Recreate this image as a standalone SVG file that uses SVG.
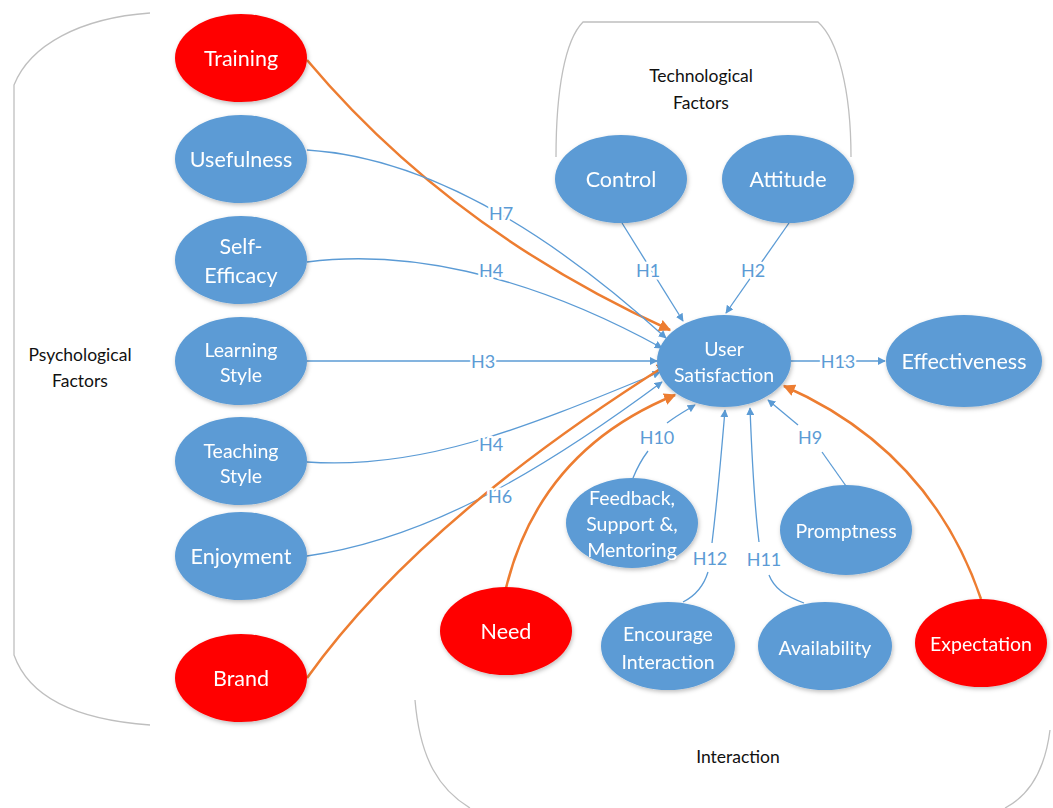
<svg xmlns="http://www.w3.org/2000/svg" width="1053" height="808" viewBox="0 0 1053 808">
<style>
.b{fill:#5B9BD5}
.r{fill:#FF0000}
.nt{font-family:Lato,"Open Sans",sans-serif;font-size:21.5px;fill:#fff;text-anchor:middle;dominant-baseline:central}
.sm{font-size:19.5px}
.gl{font-family:Lato,"Open Sans",sans-serif;font-size:17.5px;fill:#111;text-anchor:middle;dominant-baseline:central}
.hl{font-family:Lato,"Open Sans",sans-serif;font-size:18px;fill:#5B9BD5;text-anchor:middle;dominant-baseline:central;stroke:#fff;stroke-width:5;stroke-linejoin:round;paint-order:stroke}
.cb{fill:none;stroke:#5B9BD5;stroke-width:1.3}
.cba{marker-end:url(#ab)}
.co{fill:none;stroke:#ED7D31;stroke-width:2.5;marker-end:url(#ao)}
.br{fill:none;stroke:#BFBFBF;stroke-width:1.3}
</style>
<defs>
<marker id="ab" viewBox="0 0 10 10" refX="9" refY="5" markerWidth="8" markerHeight="8" markerUnits="userSpaceOnUse" orient="auto"><path d="M0,0 L10,5 L0,10 z" fill="#5B9BD5"/></marker>
<marker id="ao" viewBox="0 0 10 10" refX="9" refY="5" markerWidth="12" markerHeight="12" markerUnits="userSpaceOnUse" orient="auto"><path d="M0,0 L10,5 L0,10 z" fill="#ED7D31"/></marker>
<filter id="sh" x="-20%" y="-20%" width="140%" height="150%"><feDropShadow dx="1" dy="2" stdDeviation="2" flood-color="#000" flood-opacity="0.25"/></filter>
</defs>
<rect width="1053" height="808" fill="#fff"/>
<g id="brackets">
<path class="br" d="M150,13 C80,18 30,45 14,85 L14,655 C30,700 80,720 150,725"/>
<path class="br" d="M556,157 C556,90 565,40 583,22 L818,22 C838,40 851,90 851,157"/>
<path class="br" d="M415,700 C420,760 440,790 470,808"/>
<path class="br" d="M1050,730 C1045,770 1030,795 1005,808"/>
<text class="gl" x="701" y="75">Technological</text>
<text class="gl" x="701" y="102">Factors</text>
<text class="gl" x="80" y="354">Psychological</text>
<text class="gl" x="80" y="380">Factors</text>
<text class="gl" x="738" y="756">Interaction</text>
</g>
<g id="connectors">
<path class="co" d="M307,60 Q450,230 670,330"/>
<path class="cb cba" d="M307,150 Q470,160 666,338"/>
<path class="cb cba" d="M307,262 C400,250 520,270 662,348"/>
<path class="cb cba" d="M307,361 L657,361"/>
<path class="cb cba" d="M307,462 C420,470 520,430 660,372"/>
<path class="cb cba" d="M307,556 C420,540 530,480 662,382"/>
<path class="co" d="M307,678 Q420,520 668,364"/>
<path class="co" d="M506,588 Q540,450 675,395"/>
<path class="co" d="M981,599 Q930,450 784,386"/>
<path class="cb cba" d="M622,223 L683,321"/>
<path class="cb cba" d="M789,223 L726,313"/>
<path class="cb cba" d="M791,361 L885,361"/>
<path class="cb" d="M633,478 C637,468 642,459 648,451"/>
<path class="cb cba" d="M667,423 C676,416 685,411 695,405"/>
<path class="cb" d="M683,602 C697,595 704,585 708,572"/>
<path class="cb cba" d="M712,543 C716,510 720,470 725,410"/>
<path class="cb" d="M804,603 C785,596 774,588 769,575"/>
<path class="cb cba" d="M759,542 C755,510 752,460 750,408"/>
<path class="cb" d="M846,486 L822,452"/>
<path class="cb cba" d="M798,425 L768,400"/>
<text class="hl" x="501" y="213">H7</text>
<text class="hl" x="491" y="270">H4</text>
<text class="hl" x="483" y="361">H3</text>
<text class="hl" x="491" y="444">H4</text>
<text class="hl" x="500" y="496">H6</text>
<text class="hl" x="648" y="270">H1</text>
<text class="hl" x="753" y="270">H2</text>
<text class="hl" x="838" y="361">H13</text>
<text class="hl" x="657" y="437">H10</text>
<text class="hl" x="710" y="558">H12</text>
<text class="hl" x="764" y="559">H11</text>
<text class="hl" x="810" y="437">H9</text>
</g>
<g id="training" filter="url(#sh)"><ellipse class="r" cx="241" cy="58" rx="66" ry="44"/><text class="nt" x="241" y="58">Training</text></g>
<g id="usefulness" filter="url(#sh)"><ellipse class="b" cx="241" cy="159" rx="66" ry="44"/><text class="nt" x="241" y="159">Usefulness</text></g>
<g id="self-efficacy" filter="url(#sh)"><ellipse class="b" cx="241" cy="260" rx="66" ry="44"/><text class="nt" x="241" y="246">Self-</text><text class="nt" x="241" y="275">Efficacy</text></g>
<g id="learning-style" filter="url(#sh)"><ellipse class="b" cx="241" cy="361" rx="66" ry="44"/><text class="nt sm" x="241" y="349">Learning</text><text class="nt sm" x="241" y="374">Style</text></g>
<g id="teaching-style" filter="url(#sh)"><ellipse class="b" cx="241" cy="461" rx="66" ry="44"/><text class="nt sm" x="241" y="450">Teaching</text><text class="nt sm" x="241" y="475">Style</text></g>
<g id="enjoyment" filter="url(#sh)"><ellipse class="b" cx="241" cy="556" rx="66" ry="44"/><text class="nt" x="241" y="556">Enjoyment</text></g>
<g id="brand" filter="url(#sh)"><ellipse class="r" cx="241" cy="678" rx="66" ry="44"/><text class="nt" x="241" y="678">Brand</text></g>
<g id="control" filter="url(#sh)"><ellipse class="b" cx="621" cy="179" rx="66" ry="44"/><text class="nt" x="621" y="179">Control</text></g>
<g id="attitude" filter="url(#sh)"><ellipse class="b" cx="788" cy="179" rx="66" ry="44"/><text class="nt" x="788" y="179">Attitude</text></g>
<g id="user-satisfaction" filter="url(#sh)"><ellipse class="b" cx="724" cy="361" rx="67" ry="46"/><text class="nt sm" x="724" y="348">User</text><text class="nt sm" x="724" y="374">Satisfaction</text></g>
<g id="effectiveness" filter="url(#sh)"><ellipse class="b" cx="964" cy="361" rx="78" ry="46"/><text class="nt" x="964" y="361">Effectiveness</text></g>
<g id="feedback" filter="url(#sh)"><ellipse class="b" cx="632" cy="523" rx="66" ry="45"/><text class="nt sm" x="632" y="497">Feedback,</text><text class="nt sm" x="632" y="523">Support &amp;,</text><text class="nt sm" x="632" y="549">Mentoring</text></g>
<g id="promptness" filter="url(#sh)"><ellipse class="b" cx="846" cy="530" rx="66" ry="45"/><text class="nt sm" x="846" y="530">Promptness</text></g>
<g id="need" filter="url(#sh)"><ellipse class="r" cx="506" cy="631" rx="66" ry="44"/><text class="nt" x="506" y="631">Need</text></g>
<g id="encourage-interaction" filter="url(#sh)"><ellipse class="b" cx="668" cy="646" rx="67" ry="44"/><text class="nt sm" x="668" y="633">Encourage</text><text class="nt sm" x="668" y="661">Interaction</text></g>
<g id="availability" filter="url(#sh)"><ellipse class="b" cx="825" cy="646" rx="67" ry="44"/><text class="nt sm" x="825" y="647">Availability</text></g>
<g id="expectation" filter="url(#sh)"><ellipse class="r" cx="981" cy="643" rx="66" ry="44"/><text class="nt sm" x="981" y="643">Expectation</text></g>
</svg>
